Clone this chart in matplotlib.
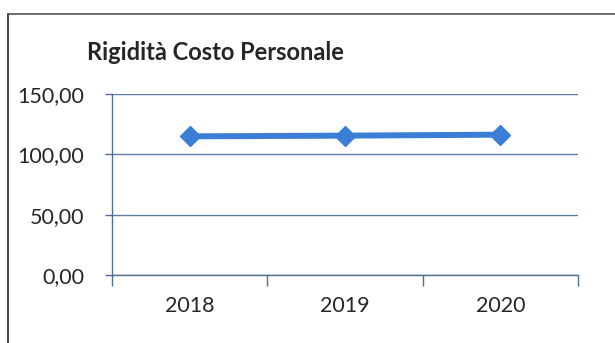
import matplotlib.pyplot as plt
from matplotlib.lines import Line2D
from matplotlib.ticker import FuncFormatter, FixedLocator

years = ["2018", "2019", "2020"]
values = [114.9, 115.5, 116.3]
y_ticks = [0, 50, 100, 150]

plt.rcParams['font.family'] = ['Lato', 'DejaVu Sans']

fig = plt.figure(figsize=(6.15, 3.43), dpi=100)
ax = fig.add_axes([0.182, 0.198, 0.758, 0.528])

x = list(range(len(years)))
ax.plot(x, values, color="#3a7fd5", linewidth=4.3, marker="D",
        markersize=10, zorder=3)

ax.set_xlim(-0.5, len(years) - 0.5)
ax.set_ylim(0, 150)
ax.set_yticks(y_ticks)
ax.yaxis.set_major_formatter(FuncFormatter(lambda v, p: "{:.2f}".format(v).replace(".", ",")))

# category labels centred, tick marks on the boundaries
ax.set_xticks(x)
ax.set_xticklabels(years)
ax.xaxis.set_minor_locator(FixedLocator([-0.5, 0.5, 1.5, 2.5]))
ax.tick_params(axis="x", which="major", length=0, pad=15, labelsize=15.5, labelcolor="#262626")
ax.tick_params(axis="x", which="minor", length=8, width=1, color="#4f6f94", direction="out")
ax.tick_params(axis="y", length=5, width=1, color="#4f6f94", pad=15, labelsize=15.5, labelcolor="#262626")

ax.grid(axis="y", color="#5a7ba3", linewidth=1)
ax.set_axisbelow(True)
for side in ["top", "right"]:
    ax.spines[side].set_visible(False)
for side in ["left", "bottom"]:
    ax.spines[side].set_color("#4f6f94")
    ax.spines[side].set_linewidth(1)

fig.text(0.141, 0.848, "Rigidità Costo Personale", fontsize=17, fontweight="bold",
         color="#262626", ha="left", va="center")

# frame around the chart area
fig.add_artist(Line2D([0.013, 0.013], [0.0, 0.96], color="#222222", linewidth=1.2))
fig.add_artist(Line2D([0.013, 1.0], [0.96, 0.96], color="#555555", linewidth=1.2))

fig.savefig("out.png", dpi=100)
